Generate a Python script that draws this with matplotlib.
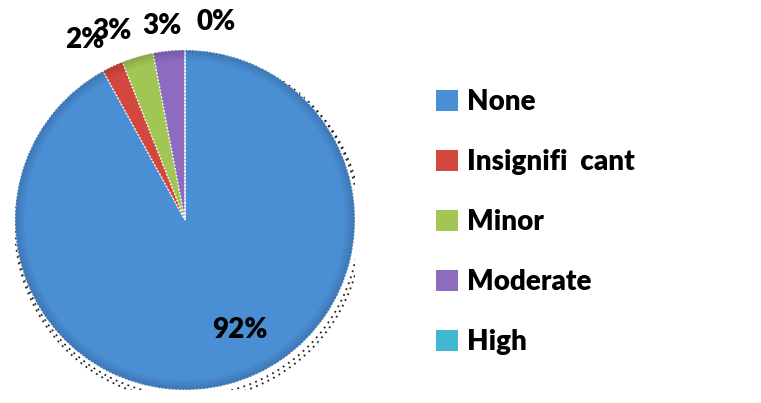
import numpy as np
import matplotlib.pyplot as plt
from matplotlib.patches import Patch, Circle, Wedge

categories = ['None', 'Insignifi  cant', 'Minor', 'Moderate', 'High']
shares = [92, 2, 3, 3, 0]
colors = ['#4a8fd4', '#d2483e', '#a2c656', '#8d6cc0', '#40b8d2']

plt.rcParams['font.family'] = ['Lato', 'DejaVu Sans']

W, H = 761, 403
fig = plt.figure(figsize=(W / 100, H / 100), dpi=100)
fig.patch.set_facecolor('white')

# pie centred at (185, 220) px with radius 170 px
cx, cy, r = 185, 220, 170
ax = fig.add_axes([(cx - r) / W, (H - cy - r) / H, 2 * r / W, 2 * r / H])

# dotted soft shadow round the lower edge
for off, rad in [((0.015, -0.025), 1.01), ((0.02, -0.04), 1.02)]:
    ax.add_patch(Circle(off, rad, facecolor='none', edgecolor='#222222',
                        linestyle=(0, (1, 2.5)), linewidth=1.3, zorder=0))

wedges, _ = ax.pie(shares, colors=colors, startangle=90, counterclock=False,
                   wedgeprops=dict(edgecolor='white', linewidth=1.0,
                                   linestyle=(0, (1, 1.5))))

# soft darker rim on each slice for a bevelled look
for w in wedges:
    w.set_zorder(2)
    if w.theta2 - w.theta1 > 0:
        for width in np.linspace(0.01, 0.06, 6):
            ax.add_patch(Wedge((0, 0), 1, w.theta1, w.theta2, width=width,
                               facecolor='black', alpha=0.025, edgecolor='none',
                               zorder=3))

# value labels: the big slice inside, the small ones outside
label_r = [0.72, 1.21, 1.19, 1.15, 1.18]
label_nudge = [12, 4, 5, 1.3, -9]
for w, v, rr, dn in zip(wedges, shares, label_r, label_nudge):
    mid = np.deg2rad((w.theta1 + w.theta2) / 2 + dn)
    ax.text(rr * np.cos(mid), rr * np.sin(mid), f'{v}%', ha='center', va='center',
            fontsize=20, fontweight='heavy', color='black', zorder=5, clip_on=False)

ax.set_xlim(-1, 1)
ax.set_ylim(-1, 1)
ax.set_aspect('equal')
ax.axis('off')

handles = [Patch(facecolor=c, edgecolor='none') for c in colors]
fig.legend(handles, categories, loc='center left',
           bbox_to_anchor=(411 / W, 1 - 222 / H), frameon=False,
           prop=dict(size=20, weight='heavy'), handlelength=0.8, handleheight=0.8,
           handletextpad=0.3, labelspacing=1.22)

fig.savefig('out.png', dpi=100, facecolor='white')
